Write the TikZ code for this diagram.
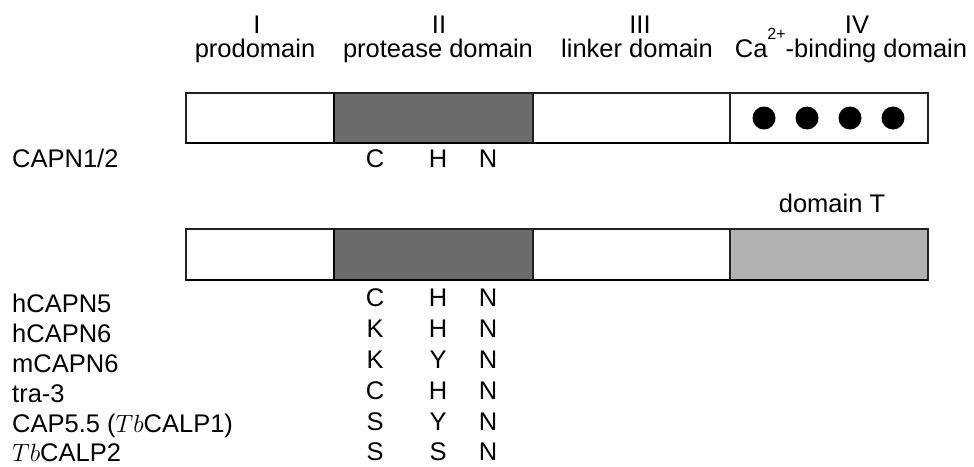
\documentclass[tikz,border=0pt]{standalone}
\usepackage{fontspec}
\setmainfont{Liberation Sans}
\definecolor{protease}{HTML}{6B6B6B}
\definecolor{domT}{HTML}{B2B2B2}
\definecolor{edge}{HTML}{222222}
\begin{document}
\begin{tikzpicture}[x=1pt,y=-1pt,
  txt/.style={anchor=base, inner sep=0pt, font=\fontsize{25.5}{30}\selectfont},
  rowname/.style={anchor=base west, inner sep=0pt, font=\fontsize{25.5}{30}\selectfont},
  seg/.style={draw=edge, line width=1.3pt},
  cabead/.style={circle, fill=black, inner sep=0pt, minimum size=23pt}]
\path[use as bounding box] (0,0) rectangle (974,466);

% domain headings
\node[txt] (hI)   at (257,33) {I};
\node[txt] (hII)  at (439,33) {II};
\node[txt] (hIII) at (640,33) {III};
\node[txt] (hIV)  at (857,33) {IV};
\node[txt] (dI)   at (255,57) {prodomain};
\node[txt] (dII)  at (438,57) {protease domain};
\node[txt] (dIII) at (637,57) {linker domain};
\node[txt] (dIV)  at (851,57) {Ca\raisebox{18pt}{\fontsize{16}{18}\selectfont 2+}-binding domain};

% classical calpain (CAPN1/2)
\draw[seg, fill=white]    (186,93) rectangle (334,143);
\draw[seg, fill=protease] (334,93) rectangle (533,143);
\draw[seg, fill=white]    (533,93) rectangle (730,143);
\draw[seg, fill=white]    (730,93) rectangle (928,143);
\draw[black, line width=2pt] (334,93) -- (334,143);
\draw[black, line width=1.8pt] (186,143) -- (928,143);
\foreach \x [count=\k] in {764,807,850,893}
  \node[cabead] (bead\k) at (\x,118) {};

\node[rowname] (capn12) at (12,167) {CAPN1/2};
\node[txt] (c0) at (375,167) {C};
\node[txt] (h0) at (438,167) {H};
\node[txt] (n0) at (488,167) {N};

% domain-T calpains
\node[txt] (domT) at (832,212) {domain T};
\draw[seg, fill=white]    (186,229) rectangle (334,280);
\draw[seg, fill=protease] (334,229) rectangle (533,280);
\draw[seg, fill=white]    (533,229) rectangle (730,280);
\draw[seg, fill=domT]     (730,229) rectangle (928,280);
\draw[black, line width=2pt] (334,229) -- (334,280);
\draw[black, line width=1.8pt] (186,280) -- (928,280);

\foreach \nm/\ny/\a/\b/\c/\ry [count=\k] in {
    hCAPN5/312/C/H/N/306,
    hCAPN6/342/K/H/N/337,
    mCAPN6/372/K/Y/N/368,
    tra-3/402/C/H/N/399,
    {CAP5.5 ($Tb$CALP1)}/432/S/Y/N/430,
    {$Tb$CALP2}/461/S/S/N/460} {
  \node[rowname] (name\k) at (12,\ny) {\nm};
  \node[txt] (ra\k) at (375,\ry) {\a};
  \node[txt] (rb\k) at (438,\ry) {\b};
  \node[txt] (rc\k) at (488,\ry) {\c};
}
\end{tikzpicture}
\end{document}
